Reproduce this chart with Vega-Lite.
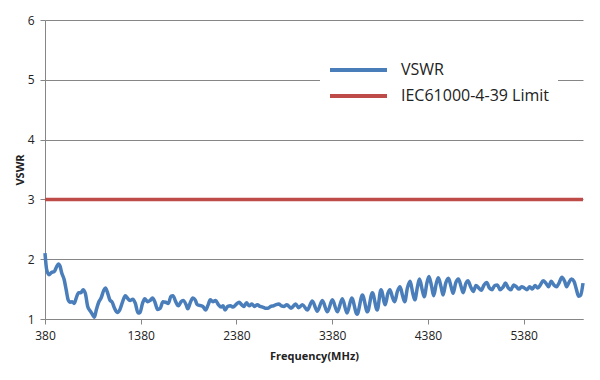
{
  "$schema": "https://vega.github.io/schema/vega-lite/v6.json",
  "width": 538,
  "height": 299,
  "autosize": "none",
  "padding": {"left": 45, "top": 20, "right": 17, "bottom": 61},
  "background": "white",
  "config": {"view": {"stroke": null}, "font": "Open Sans"},
  "data": {"values": [
    {"f":380,"v":2.10,"s":"VSWR"},{"f":398,"v":1.82,"s":"VSWR"},{"f":422,"v":1.74,"s":"VSWR"},{"f":450,"v":1.78,"s":"VSWR"},{"f":475,"v":1.79,"s":"VSWR"},{"f":503,"v":1.88,"s":"VSWR"},{"f":520,"v":1.92,"s":"VSWR"},{"f":538,"v":1.88,"s":"VSWR"},{"f":555,"v":1.77,"s":"VSWR"},{"f":580,"v":1.66,"s":"VSWR"},{"f":601,"v":1.49,"s":"VSWR"},{"f":622,"v":1.32,"s":"VSWR"},{"f":643,"v":1.28,"s":"VSWR"},{"f":664,"v":1.29,"s":"VSWR"},{"f":685,"v":1.26,"s":"VSWR"},{"f":706,"v":1.35,"s":"VSWR"},{"f":731,"v":1.44,"s":"VSWR"},{"f":755,"v":1.44,"s":"VSWR"},{"f":777,"v":1.49,"s":"VSWR"},{"f":801,"v":1.43,"s":"VSWR"},{"f":826,"v":1.21,"s":"VSWR"},{"f":854,"v":1.13,"s":"VSWR"},{"f":882,"v":1.06,"s":"VSWR"},{"f":896,"v":1.03,"s":"VSWR"},{"f":917,"v":1.16,"s":"VSWR"},{"f":941,"v":1.28,"s":"VSWR"},{"f":966,"v":1.35,"s":"VSWR"},{"f":994,"v":1.48,"s":"VSWR"},{"f":1012,"v":1.52,"s":"VSWR"},{"f":1029,"v":1.46,"s":"VSWR"},{"f":1057,"v":1.32,"s":"VSWR"},{"f":1082,"v":1.28,"s":"VSWR"},{"f":1106,"v":1.18,"s":"VSWR"},{"f":1134,"v":1.11,"s":"VSWR"},{"f":1163,"v":1.16,"s":"VSWR"},{"f":1191,"v":1.29,"s":"VSWR"},{"f":1219,"v":1.39,"s":"VSWR"},{"f":1240,"v":1.35,"s":"VSWR"},{"f":1268,"v":1.31,"s":"VSWR"},{"f":1296,"v":1.33,"s":"VSWR"},{"f":1324,"v":1.26,"s":"VSWR"},{"f":1352,"v":1.10,"s":"VSWR"},{"f":1373,"v":1.11,"s":"VSWR"},{"f":1398,"v":1.26,"s":"VSWR"},{"f":1422,"v":1.34,"s":"VSWR"},{"f":1450,"v":1.29,"s":"VSWR"},{"f":1478,"v":1.31,"s":"VSWR"},{"f":1503,"v":1.35,"s":"VSWR"},{"f":1527,"v":1.29,"s":"VSWR"},{"f":1556,"v":1.16,"s":"VSWR"},{"f":1584,"v":1.18,"s":"VSWR"},{"f":1612,"v":1.29,"s":"VSWR"},{"f":1640,"v":1.28,"s":"VSWR"},{"f":1668,"v":1.26,"s":"VSWR"},{"f":1696,"v":1.38,"s":"VSWR"},{"f":1717,"v":1.39,"s":"VSWR"},{"f":1745,"v":1.29,"s":"VSWR"},{"f":1773,"v":1.22,"s":"VSWR"},{"f":1801,"v":1.29,"s":"VSWR"},{"f":1822,"v":1.31,"s":"VSWR"},{"f":1854,"v":1.24,"s":"VSWR"},{"f":1871,"v":1.17,"s":"VSWR"},{"f":1899,"v":1.28,"s":"VSWR"},{"f":1924,"v":1.35,"s":"VSWR"},{"f":1949,"v":1.32,"s":"VSWR"},{"f":1970,"v":1.24,"s":"VSWR"},{"f":2029,"v":1.21,"s":"VSWR"},{"f":2057,"v":1.15,"s":"VSWR"},{"f":2085,"v":1.24,"s":"VSWR"},{"f":2106,"v":1.32,"s":"VSWR"},{"f":2134,"v":1.29,"s":"VSWR"},{"f":2162,"v":1.31,"s":"VSWR"},{"f":2191,"v":1.24,"s":"VSWR"},{"f":2219,"v":1.20,"s":"VSWR"},{"f":2240,"v":1.22,"s":"VSWR"},{"f":2261,"v":1.15,"s":"VSWR"},{"f":2289,"v":1.21,"s":"VSWR"},{"f":2317,"v":1.22,"s":"VSWR"},{"f":2345,"v":1.20,"s":"VSWR"},{"f":2380,"v":1.25,"s":"VSWR"},{"f":2408,"v":1.28,"s":"VSWR"},{"f":2433,"v":1.24,"s":"VSWR"},{"f":2457,"v":1.21,"s":"VSWR"},{"f":2485,"v":1.27,"s":"VSWR"},{"f":2513,"v":1.22,"s":"VSWR"},{"f":2541,"v":1.25,"s":"VSWR"},{"f":2569,"v":1.21,"s":"VSWR"},{"f":2598,"v":1.24,"s":"VSWR"},{"f":2626,"v":1.21,"s":"VSWR"},{"f":2654,"v":1.20,"s":"VSWR"},{"f":2682,"v":1.18,"s":"VSWR"},{"f":2710,"v":1.18,"s":"VSWR"},{"f":2738,"v":1.21,"s":"VSWR"},{"f":2766,"v":1.22,"s":"VSWR"},{"f":2794,"v":1.24,"s":"VSWR"},{"f":2822,"v":1.25,"s":"VSWR"},{"f":2850,"v":1.22,"s":"VSWR"},{"f":2878,"v":1.21,"s":"VSWR"},{"f":2906,"v":1.24,"s":"VSWR"},{"f":2950,"v":1.18,"s":"VSWR"},{"f":2998,"v":1.25,"s":"VSWR"},{"f":3030,"v":1.19,"s":"VSWR"},{"f":3070,"v":1.24,"s":"VSWR"},{"f":3120,"v":1.15,"s":"VSWR"},{"f":3172,"v":1.30,"s":"VSWR"},{"f":3225,"v":1.13,"s":"VSWR"},{"f":3277,"v":1.31,"s":"VSWR"},{"f":3330,"v":1.12,"s":"VSWR"},{"f":3382,"v":1.32,"s":"VSWR"},{"f":3434,"v":1.12,"s":"VSWR"},{"f":3486,"v":1.34,"s":"VSWR"},{"f":3535,"v":1.10,"s":"VSWR"},{"f":3584,"v":1.35,"s":"VSWR"},{"f":3640,"v":1.08,"s":"VSWR"},{"f":3696,"v":1.40,"s":"VSWR"},{"f":3748,"v":1.12,"s":"VSWR"},{"f":3800,"v":1.44,"s":"VSWR"},{"f":3850,"v":1.15,"s":"VSWR"},{"f":3890,"v":1.49,"s":"VSWR"},{"f":3934,"v":1.24,"s":"VSWR"},{"f":3962,"v":1.43,"s":"VSWR"},{"f":3983,"v":1.49,"s":"VSWR"},{"f":4012,"v":1.35,"s":"VSWR"},{"f":4033,"v":1.29,"s":"VSWR"},{"f":4061,"v":1.46,"s":"VSWR"},{"f":4089,"v":1.54,"s":"VSWR"},{"f":4117,"v":1.38,"s":"VSWR"},{"f":4138,"v":1.29,"s":"VSWR"},{"f":4166,"v":1.52,"s":"VSWR"},{"f":4194,"v":1.63,"s":"VSWR"},{"f":4222,"v":1.43,"s":"VSWR"},{"f":4243,"v":1.32,"s":"VSWR"},{"f":4271,"v":1.54,"s":"VSWR"},{"f":4292,"v":1.67,"s":"VSWR"},{"f":4320,"v":1.49,"s":"VSWR"},{"f":4341,"v":1.37,"s":"VSWR"},{"f":4369,"v":1.60,"s":"VSWR"},{"f":4391,"v":1.71,"s":"VSWR"},{"f":4419,"v":1.54,"s":"VSWR"},{"f":4440,"v":1.39,"s":"VSWR"},{"f":4468,"v":1.60,"s":"VSWR"},{"f":4489,"v":1.69,"s":"VSWR"},{"f":4517,"v":1.54,"s":"VSWR"},{"f":4538,"v":1.40,"s":"VSWR"},{"f":4566,"v":1.60,"s":"VSWR"},{"f":4594,"v":1.68,"s":"VSWR"},{"f":4622,"v":1.54,"s":"VSWR"},{"f":4643,"v":1.43,"s":"VSWR"},{"f":4671,"v":1.61,"s":"VSWR"},{"f":4699,"v":1.67,"s":"VSWR"},{"f":4727,"v":1.54,"s":"VSWR"},{"f":4748,"v":1.44,"s":"VSWR"},{"f":4777,"v":1.60,"s":"VSWR"},{"f":4798,"v":1.64,"s":"VSWR"},{"f":4826,"v":1.54,"s":"VSWR"},{"f":4854,"v":1.46,"s":"VSWR"},{"f":4882,"v":1.56,"s":"VSWR"},{"f":4910,"v":1.52,"s":"VSWR"},{"f":4938,"v":1.48,"s":"VSWR"},{"f":4966,"v":1.57,"s":"VSWR"},{"f":4994,"v":1.61,"s":"VSWR"},{"f":5022,"v":1.52,"s":"VSWR"},{"f":5050,"v":1.49,"s":"VSWR"},{"f":5078,"v":1.56,"s":"VSWR"},{"f":5106,"v":1.57,"s":"VSWR"},{"f":5134,"v":1.49,"s":"VSWR"},{"f":5163,"v":1.53,"s":"VSWR"},{"f":5191,"v":1.60,"s":"VSWR"},{"f":5219,"v":1.52,"s":"VSWR"},{"f":5247,"v":1.49,"s":"VSWR"},{"f":5275,"v":1.57,"s":"VSWR"},{"f":5303,"v":1.54,"s":"VSWR"},{"f":5331,"v":1.50,"s":"VSWR"},{"f":5359,"v":1.54,"s":"VSWR"},{"f":5387,"v":1.52,"s":"VSWR"},{"f":5415,"v":1.49,"s":"VSWR"},{"f":5443,"v":1.54,"s":"VSWR"},{"f":5471,"v":1.50,"s":"VSWR"},{"f":5499,"v":1.56,"s":"VSWR"},{"f":5527,"v":1.52,"s":"VSWR"},{"f":5555,"v":1.57,"s":"VSWR"},{"f":5584,"v":1.64,"s":"VSWR"},{"f":5612,"v":1.60,"s":"VSWR"},{"f":5640,"v":1.54,"s":"VSWR"},{"f":5668,"v":1.63,"s":"VSWR"},{"f":5696,"v":1.57,"s":"VSWR"},{"f":5724,"v":1.54,"s":"VSWR"},{"f":5752,"v":1.61,"s":"VSWR"},{"f":5780,"v":1.70,"s":"VSWR"},{"f":5808,"v":1.63,"s":"VSWR"},{"f":5829,"v":1.54,"s":"VSWR"},{"f":5850,"v":1.60,"s":"VSWR"},{"f":5878,"v":1.67,"s":"VSWR"},{"f":5906,"v":1.63,"s":"VSWR"},{"f":5927,"v":1.52,"s":"VSWR"},{"f":5955,"v":1.38,"s":"VSWR"},{"f":5976,"v":1.40,"s":"VSWR"},{"f":6000,"v":1.60,"s":"VSWR"},
    {"f":380,"v":3,"s":"IEC61000-4-39 Limit"},{"f":6000,"v":3,"s":"IEC61000-4-39 Limit"}
  ]},
  "mark": {"type": "line", "strokeWidth": 3.5, "interpolate": "monotone"},
  "encoding": {
    "x": {
      "field": "f", "type": "quantitative",
      "scale": {"domain": [380, 6000], "nice": false, "zero": false},
      "axis": {
        "values": [380, 1380, 2380, 3380, 4380, 5380], "format": "d",
        "title": "Frequency(MHz)", "titleFontSize": 11, "titleFontWeight": "bold", "titleColor": "#222",
        "titlePadding": 9,
        "labelFontSize": 12, "labelColor": "#222", "labelPadding": 6,
        "grid": false, "domainColor": "#868686", "tickColor": "#868686", "tickSize": 5,
        "labelFlush": false
      }
    },
    "y": {
      "field": "v", "type": "quantitative",
      "scale": {"domain": [1, 6], "nice": false, "zero": false},
      "axis": {
        "values": [1, 2, 3, 4, 5, 6], "format": "d",
        "title": "VSWR", "titleFontSize": 11, "titleFontWeight": "bold", "titleColor": "#222",
        "titlePadding": 2,
        "labelFontSize": 12, "labelColor": "#222", "labelPadding": 6,
        "grid": true, "gridColor": "#868686", "domainColor": "#868686", "tickColor": "#868686", "tickSize": 5
      }
    },
    "color": {
      "field": "s", "type": "nominal",
      "scale": {"domain": ["VSWR", "IEC61000-4-39 Limit"], "range": ["#4A7EBB", "#BE4B48"]},
      "legend": {
        "title": null, "orient": "none", "legendX": 275, "legendY": 31,
        "fillColor": "white", "padding": 8,
        "symbolType": "stroke", "symbolSize": 3249, "symbolStrokeWidth": 4,
        "clipHeight": 22,
        "labelFontSize": 16, "labelColor": "#222", "labelOffset": 12, "rowPadding": 4
      }
    }
  }
}
